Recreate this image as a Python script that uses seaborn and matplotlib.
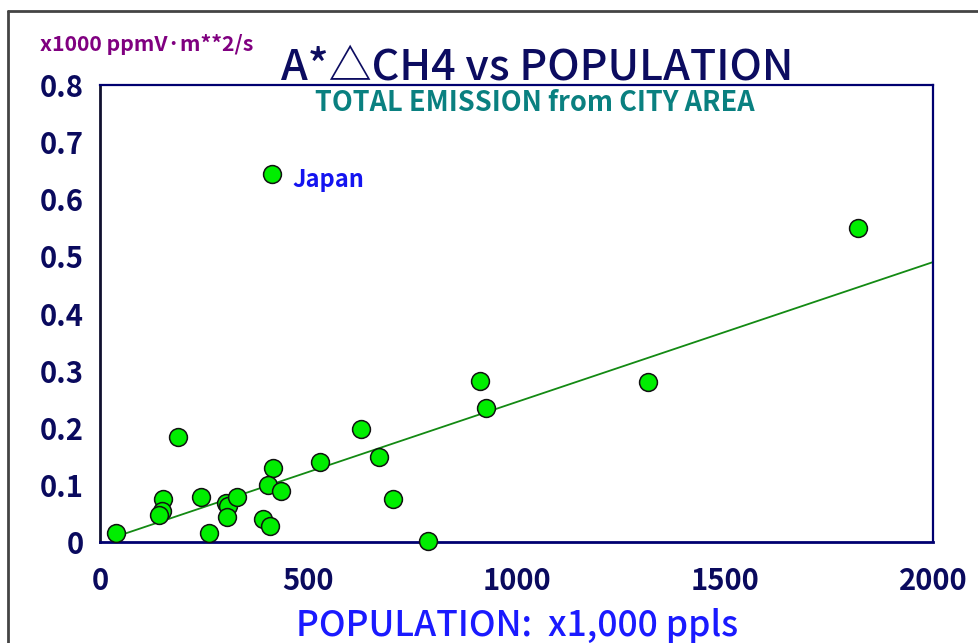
import numpy as np
import pandas as pd
import matplotlib
matplotlib.use("Agg")
import matplotlib.pyplot as plt
from matplotlib.lines import Line2D
import seaborn as sns

# ---- data ----
population = [38, 188, 152, 150, 142, 242, 261, 302, 308, 304, 328, 416, 404, 434,
              391, 408, 528, 627, 671, 703, 787, 413, 1821, 912, 927, 1316]
emission = [0.016, 0.183, 0.075, 0.055, 0.047, 0.079, 0.016, 0.069, 0.063, 0.043,
            0.078, 0.130, 0.099, 0.089, 0.041, 0.028, 0.140, 0.198, 0.149, 0.075,
            0.002, 0.644, 0.549, 0.282, 0.234, 0.280]
labelled_city = "Japan"
labelled_index = 21
x_ticks = [0, 500, 1000, 1500, 2000]
y_ticks = [0, 0.1, 0.2, 0.3, 0.4, 0.5, 0.6, 0.7, 0.8]
y_tick_labels = ["0", "0.1", "0.2", "0.3", "0.4", "0.5", "0.6", "0.7", "0.8"]
fit_slope = 0.000245          # regression line through origin
fit_range = [min(population), 2000]

df = pd.DataFrame({"pop": population, "em": emission})
fit_df = pd.DataFrame({"pop": fit_range, "em": [fit_slope * v for v in fit_range]})

sns.set_theme(style="white")
plt.rcParams["font.family"] = ["Noto Sans CJK JP", "DejaVu Sans"]

W, H = 979, 643
fig = plt.figure(figsize=(W / 100, H / 100), dpi=100)
ax = fig.add_axes([100 / W, 1 - 542 / H, (933 - 100) / W, (542 - 85) / H])

navy = "#0a0a5e"
sns.lineplot(data=fit_df, x="pop", y="em", ax=ax, color="#138a13", linewidth=1.3, zorder=2)
sns.scatterplot(data=df, x="pop", y="em", ax=ax, s=165, color="#00ee00",
                edgecolor="#111111", linewidth=1.1, zorder=3, clip_on=False)

ax.annotate(labelled_city, (population[labelled_index], emission[labelled_index]),
            xytext=(15, -9.5), textcoords="offset points", va="baseline", ha="left",
            color="#1414f0", fontsize=17, fontweight="bold")

ax.set_xlim(0, 2000)
ax.set_ylim(0, 0.8)
ax.set_xticks(x_ticks)
ax.set_yticks(y_ticks)
ax.set_yticklabels(y_tick_labels)
ax.set_xlabel("")
ax.set_ylabel("")

for side in ["top", "right", "left", "bottom"]:
    ax.spines[side].set_visible(True)
    ax.spines[side].set_color("#000070")
    ax.spines[side].set_linewidth(1.6)
ax.spines["left"].set_color("#101030")
ax.spines["left"].set_linewidth(2)
ax.spines["bottom"].set_linewidth(2)

ax.tick_params(axis="both", which="major", direction="out", length=8.6, width=1.4,
               color="#101030", labelcolor=navy, labelsize=21)
ax.tick_params(axis="y", pad=3)
ax.tick_params(axis="x", pad=8.5)
for lab in ax.get_xticklabels() + ax.get_yticklabels():
    lab.set_fontweight("bold")

fig.text(537 / W, 1 - 80 / H, "A*△CH4 vs POPULATION", ha="center", va="baseline",
         fontsize=31, color="#0c0c60", fontweight="medium")
fig.text(535 / W, 1 - 111 / H, "TOTAL EMISSION from CITY AREA", ha="center", va="baseline",
         fontsize=19.5, color="#0a8080", fontweight="bold")
fig.text(40 / W, 1 - 51 / H, "x1000 ppmV·m**2/s", ha="left", va="baseline",
         fontsize=15.3, color="#800080", fontweight="bold")
fig.text(517 / W, 1 - 636 / H, "POPULATION:  x1,000 ppls", ha="center", va="baseline",
         fontsize=25.5, color="#1a1aff", fontweight="medium")

# outer frame
fig.add_artist(Line2D([8 / W, 1], [1 - 11 / H, 1 - 11 / H], transform=fig.transFigure,
                      color="#444444", linewidth=2))
fig.add_artist(Line2D([8 / W, 8 / W], [0, 1 - 11 / H], transform=fig.transFigure,
                      color="#444444", linewidth=2))

fig.savefig("out.png", dpi=100)
